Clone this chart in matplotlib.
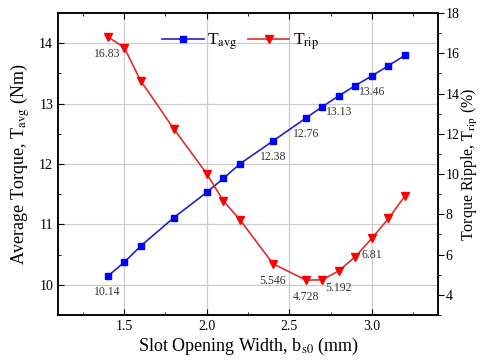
import numpy as np
import matplotlib
matplotlib.use("Agg")
import matplotlib.pyplot as plt
from matplotlib.ticker import MultipleLocator

plt.rcParams['font.family'] = ['Liberation Serif', 'DejaVu Serif']
plt.rcParams['mathtext.fontset'] = 'stix'

# values
bs0 = [1.4, 1.5, 1.6, 1.8, 2.0, 2.1, 2.2, 2.4, 2.6, 2.7, 2.8, 2.9, 3.0, 3.1, 3.2]
t_avg = [10.14, 10.37, 10.64, 11.11, 11.53, 11.76, 12.00, 12.38, 12.76, 12.95, 13.13, 13.30, 13.46, 13.63, 13.80]
t_rip = [16.83, 16.29, 14.64, 12.25, 10.02, 8.67, 7.74, 5.546, 4.728, 4.74, 5.192, 5.90, 6.81, 7.79, 8.91]

# which points carry a value label
avg_labels = {1.4: "10.14", 2.4: "12.38", 2.6: "12.76", 2.8: "13.13", 3.0: "13.46"}
rip_labels = {1.4: "16.83", 2.4: "5.546", 2.6: "4.728", 2.8: "5.192", 3.0: "6.81"}

fig = plt.figure(figsize=(4.84, 3.64), dpi=100)
ax = fig.add_axes([0.12, 0.135, 0.785, 0.829])
ax2 = ax.twinx()

l1, = ax.plot(bs0, t_avg, color='#2222c8', lw=1.2, marker='s', ms=5,
              mfc='#0000ff', mec='#0000ff', label=r'T$_{\mathrm{avg}}$', zorder=3)
l2, = ax2.plot(bs0, t_rip, color='#d83030', lw=1.2, marker='v', ms=5.5,
               mfc='#ff0000', mec='#ff0000', label=r'T$_{\mathrm{rip}}$', zorder=3)

for x, y in zip(bs0, t_avg):
    if x in avg_labels:
        ax.annotate(avg_labels[x], (x, y), xytext=(0, -7), textcoords='offset points',
                    ha='center', va='top', fontsize=8.5, color='#333333')
for x, y in zip(bs0, t_rip):
    if x in rip_labels:
        ax2.annotate(rip_labels[x], (x, y), xytext=(0, -8), textcoords='offset points',
                     ha='center', va='top', fontsize=8.5, color='#333333')

ax.set_xlim(1.1, 3.4)
ax.set_ylim(9.5, 14.5)
ax2.set_ylim(3, 18)

ax.xaxis.set_major_locator(MultipleLocator(0.5))
ax.xaxis.set_minor_locator(MultipleLocator(0.25))
ax.yaxis.set_major_locator(MultipleLocator(1))
ax.yaxis.set_minor_locator(MultipleLocator(0.5))
ax2.yaxis.set_major_locator(MultipleLocator(2))
ax2.yaxis.set_minor_locator(MultipleLocator(1))

ax.tick_params(axis='x', which='both', direction='in', top=True, labelsize=10)
ax.tick_params(axis='y', which='both', direction='in', right=False, labelsize=10)
ax2.tick_params(axis='y', which='both', direction='out', labelsize=10, pad=1.5)
ax.tick_params(which='major', length=4)
ax.tick_params(which='minor', length=2.5)
ax2.tick_params(which='major', length=4)
ax2.tick_params(which='minor', length=2.5)

ax.grid(True, which='major', color='#cccccc', lw=0.9)
ax.set_axisbelow(True)

ax.set_xlabel(r'Slot Opening Width, b$_{\mathrm{s0}}$ (mm)', fontsize=13, labelpad=2)
ax.set_ylabel(r'Average Torque, T$_{\mathrm{avg}}$ (Nm)', fontsize=13, labelpad=5)
ax2.set_ylabel(r'Torque Ripple, T$_{\mathrm{rip}}$ (%)', fontsize=11.5)
ax2.yaxis.set_label_coords(1.058, 0.5)

for a in (ax, ax2):
    for s in a.spines.values():
        s.set_linewidth(1.1)

ax.legend([l1, l2], [l1.get_label(), l2.get_label()], loc='upper center',
          bbox_to_anchor=(0.48, 0.99), ncol=2, frameon=False, fontsize=12.5,
          handlelength=2.4, columnspacing=0.6, handletextpad=0.2)

fig.savefig('out.png', dpi=100)
